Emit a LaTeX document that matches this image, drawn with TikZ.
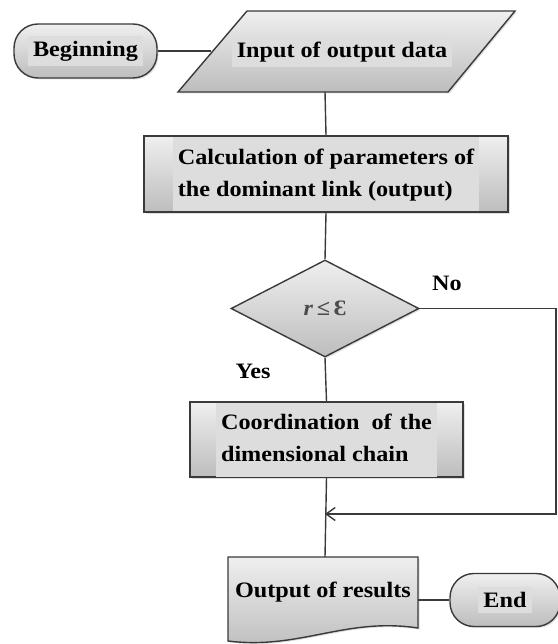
\documentclass[tikz,border=0pt]{standalone}
\usepackage{fontspec}
\setmainfont{Liberation Serif}[FakeStretch=1.1]
\usetikzlibrary{arrows.meta,shadows,shapes.geometric}
\definecolor{edge}{HTML}{3A3A3A}
\definecolor{gtop}{HTML}{EFEFEF}
\definecolor{gbot}{HTML}{BDBDBD}
\definecolor{tbg}{HTML}{DDDDDD}
\newcommand{\tbx}[1]{{\setlength{\fboxsep}{5pt}\colorbox{tbg}{#1}}}
\begin{document}
\begin{tikzpicture}[x=1pt,y=-1pt,
  font=\fontsize{22}{32}\selectfont\bfseries,
  shp/.style={draw=edge, line width=1.4pt, top color=gtop, bottom color=gbot,
    drop shadow={opacity=0.25, shadow xshift=1.5pt, shadow yshift=-1.5pt}},
  pill/.style={shp, rounded corners=24pt, inner sep=0pt},
  boxx/.style={shp, inner sep=0pt},
  conn/.style={draw=edge, line width=1.4pt},
  lbl/.style={inner sep=0pt}
]
\useasboundingbox (0,0) rectangle (557,644);

% Beginning
\node[pill, minimum width=143pt, minimum height=54pt] (beg) at (85.5,51) {\tbx{Beginning}};

% Input parallelogram
\path[shp] (247,11) -- (515,11) -- (448,92) -- (178,92) -- cycle;
\node[lbl] (inp) at (342,52) {\tbx{Input of output data}};
\coordinate (inpL) at (211,51);
\coordinate (inpB) at (325,92);

% Calculation
\node[boxx, minimum width=364pt, minimum height=76pt] (calc) at (326,174)
  {\tbx{\begin{tabular}{@{}l@{}}Calculation of parameters of\\the dominant link (output)\end{tabular}}};

% Decision
\node[diamond, shp, aspect=2, minimum width=188pt, minimum height=97pt, inner sep=0pt] (dec) at (325,308.5)
  {\fontsize{22}{24}\selectfont\color{black!70}\textit{r}\,≤\,Ɛ};

\node[lbl] (yes) at (253,371) {Yes};
\node[lbl] (no) at (447,283) {No};

% Coordination
\node[boxx, minimum width=273pt, minimum height=75pt] (coord) at (326.5,439.5)
  {\tbx{\begin{tabular}{@{}l@{}}Coordination\hspace{12pt}of\hspace{8pt}the\\dimensional chain\end{tabular}}};

% Output document
\path[shp] (228,557) -- (418,557) -- (418,628) .. controls (345,617) and (300,650) .. (228,641) -- cycle;
\node[lbl] (out) at (323,592) {Output of results};
\coordinate (outT) at (325,557);
\coordinate (outR) at (418,600);

% End
\node[pill, minimum width=110pt, minimum height=53pt] (end) at (505,600) {\tbx{End}};

% loop coordinates
\coordinate (rc1) at (556,308.5);
\coordinate (rc2) at (556,514);
\coordinate (merge) at (325,514);

% connectors
\draw[conn] (beg.east) -- (inpL);
\draw[conn] (inpB) -- (calc.north);
\draw[conn] (calc.south) -- (dec.north);
\draw[conn] (dec.south) -- (coord.north);
\draw[conn] (coord.south) -- (outT);
\draw[conn, -{Straight Barb[length=9pt,width=13pt]}] (dec.east) -- (rc1) -- (rc2) -- (merge);
\draw[conn] (outR) -- (end.west);
\end{tikzpicture}
\end{document}
